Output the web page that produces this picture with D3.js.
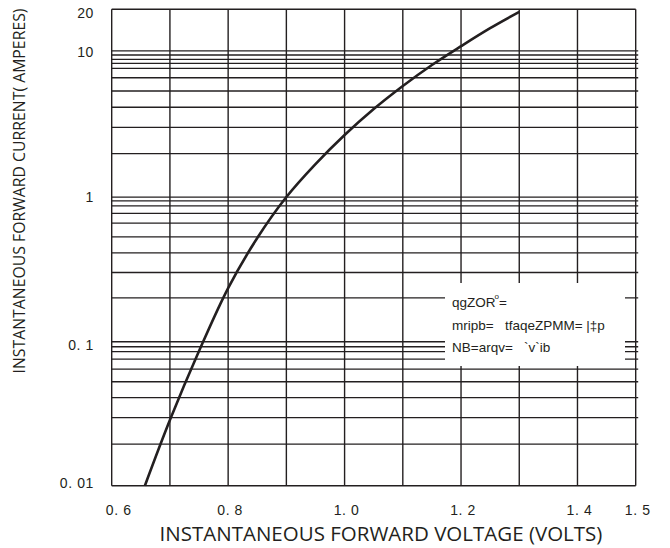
<!DOCTYPE html>
<html><head><meta charset="utf-8">
<script src="https://cdn.jsdelivr.net/npm/d3@7"></script>
<style>
html,body{margin:0;padding:0;background:#fff;}
svg{display:block;}
text{white-space:pre;}
</style>
</head><body>
<svg id="chart" width="670" height="548"></svg>
<script>
// ---- data ----
const voltage = [0.657, 0.70, 0.75, 0.80, 0.85, 0.90, 0.95, 1.00, 1.05, 1.10, 1.15, 1.20, 1.25, 1.30];
const current = [0.01, 0.0285, 0.0857, 0.234, 0.52, 1.0, 1.69, 2.69, 4.07, 5.88, 8.22, 11.1, 14.8, 19.2];
const xTicks = [0.6, 0.7, 0.8, 0.9, 1.0, 1.1, 1.2, 1.3, 1.4, 1.5];
const xTickLabels = [[0.6, "0. 6"], [0.8, "0. 8"], [1.0, "1. 0"], [1.2, "1. 2"], [1.4, "1. 4"], [1.5, "1. 5"]];
const yGrid = [0.0194, 0.0296, 0.0407, 0.0525, 0.0643, 0.0754, 0.0848, 0.0918, 0.0994,
               0.2, 0.3, 0.41, 0.53, 0.66, 0.77, 0.87, 0.94, 1.0,
               2.0, 3.04, 4.19, 5.43, 6.71, 7.8, 8.45, 9.0, 9.65, 10.3];
const yTickLabels = [[20, "20"], [10, "10"], [1, "1"], [0.1, "0. 1"], [0.01, "0. 01"]];
const legendLines = ["qgZOR", "mripb=   tfaqeZPMM= |\u2021p", "NB=arqv=   `v`ib"];
const xTitle = "INSTANTANEOUS FORWARD VOLTAGE (VOLTS)";
const yTitle = "INSTANTANEOUS FORWARD CURRENT( AMPERES)";

// ---- layout ----
const L = 111.7, R = 635.7, T = 9.3, B = 485.7;
const ink = "#231f20";
const svg = d3.select("#chart");
const x = d3.scaleLinear().domain([0.6, 1.5]).range([L, R]);
const y = d3.scaleLog().domain([0.01, 20]).range([B, T]);

const g = svg.append("g");
// horizontal grid
g.selectAll("line.h").data(yGrid).enter().append("line")
  .attr("x1", L).attr("x2", R + 2.5)
  .attr("y1", d => y(d)).attr("y2", d => y(d))
  .attr("stroke", ink).attr("stroke-width", 1.3);
// vertical grid
g.selectAll("line.v").data(xTicks).enter().append("line")
  .attr("x1", d => x(d)).attr("x2", d => x(d))
  .attr("y1", T).attr("y2", B)
  .attr("stroke", ink).attr("stroke-width", 1.4);
// frame top & bottom
g.append("line").attr("x1", L).attr("x2", R).attr("y1", T).attr("y2", T).attr("stroke", ink).attr("stroke-width", 1.4);
g.append("line").attr("x1", L).attr("x2", R).attr("y1", B).attr("y2", B).attr("stroke", ink).attr("stroke-width", 1.4);

// legend box (white)
svg.append("rect").attr("x", 445).attr("y", 283).attr("width", 180).attr("height", 83).attr("fill", "#fff");
const lg = svg.append("text").attr("font-family", "Liberation Sans, Arial, sans-serif")
  .attr("font-size", 13.5).attr("fill", ink);
legendLines.forEach((t, i) => {
  lg.append("tspan").attr("x", 452).attr("y", 307 + i * 22.5).text(t);
  if (i === 0) {
    lg.append("tspan").attr("dy", -8).attr("dx", -1).attr("font-size", 8).text("o");
    lg.append("tspan").attr("dy", 8).attr("dx", 0).text("=");
  }
});

// curve
const pts = voltage.map((v, i) => [v, current[i]]);
svg.append("path").datum(pts)
  .attr("fill", "none").attr("stroke", ink).attr("stroke-width", 2.6)
  .attr("d", d3.line().x(d => x(d[0])).y(d => y(d[1])).curve(d3.curveCatmullRom.alpha(0.5)));

// tick labels
svg.selectAll("text.xt").data(xTickLabels).enter().append("text")
  .attr("x", (d, i) => x(d[0]) + (i === 0 ? 7 : 2))
  .attr("y", 515).attr("text-anchor", "middle")
  .attr("font-family", "Liberation Sans, Arial, sans-serif").attr("font-size", 14)
  .attr("letter-spacing", 0.6).attr("fill", ink).text(d => d[1]);
const yOff = [9, 4, 5, 9, 2.5];
svg.selectAll("text.yt").data(yTickLabels).enter().append("text")
  .attr("x", 94).attr("y", (d, i) => y(d[0]) + yOff[i])
  .attr("text-anchor", "end")
  .attr("font-family", "Liberation Sans, Arial, sans-serif").attr("font-size", 14)
  .attr("letter-spacing", 0.6).attr("fill", ink).text(d => d[1]);

// axis titles
svg.append("text").attr("x", 381).attr("y", 541).attr("text-anchor", "middle")
  .attr("font-family", "Open Sans, Noto Sans, sans-serif").attr("font-size", 20.5)
  .attr("fill", ink).text(xTitle);
svg.append("text").attr("transform", "translate(25,191) rotate(-90)")
  .attr("text-anchor", "middle")
  .attr("font-family", "Open Sans, Noto Sans, sans-serif").attr("font-size", 15.8)
  .attr("fill", ink).text(yTitle);
</script>
</body></html>
